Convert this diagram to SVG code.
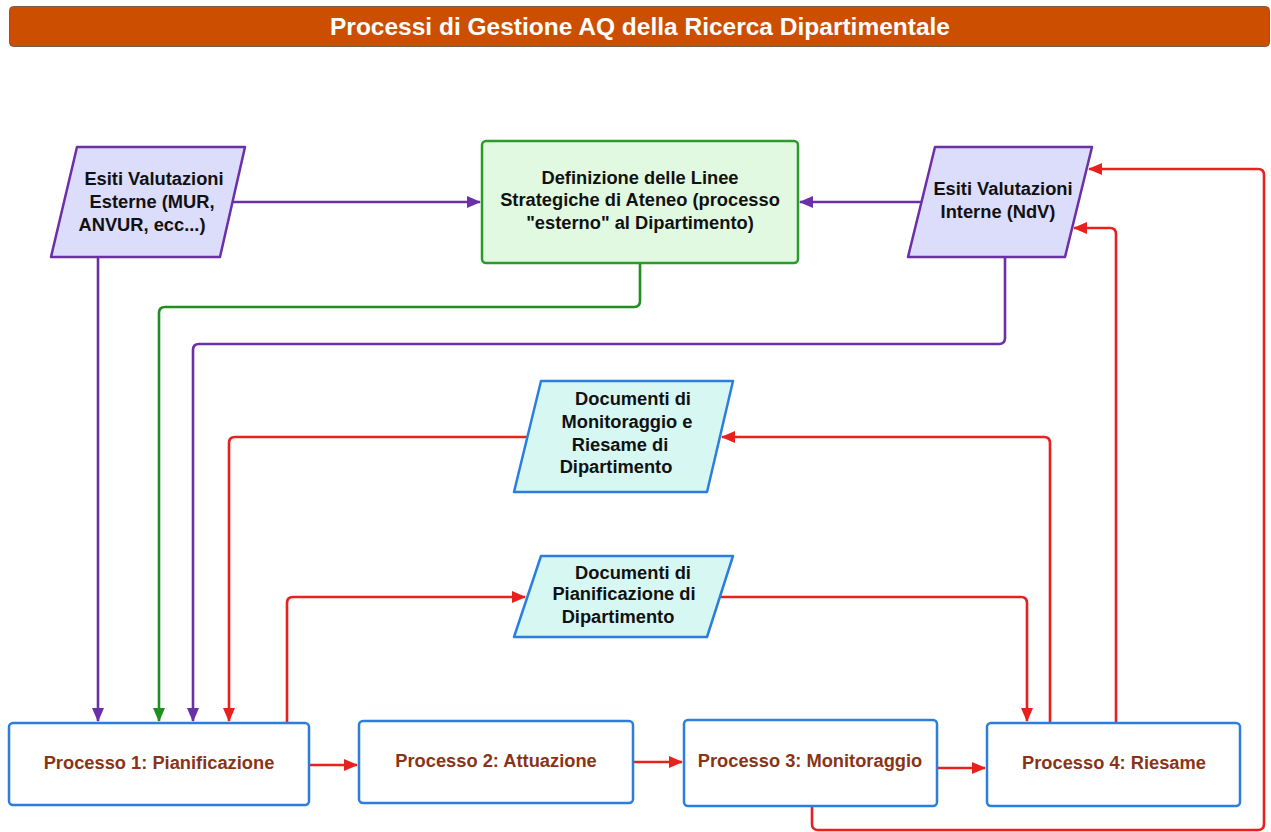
<svg xmlns="http://www.w3.org/2000/svg" width="1271" height="832" viewBox="0 0 1271 832">
<style>
.t{font-family:"Liberation Sans",Arial,sans-serif;font-weight:bold;text-anchor:middle}
.nt{font-size:18.3px;fill:#111}
.pt{font-size:18.3px;fill:#8a3417}
.par{fill:#dcdcfb;stroke:#6b2fa8;stroke-width:2.5;stroke-linejoin:round}
.doc{fill:#d7f7f3;stroke:#2b7de0;stroke-width:2.5;stroke-linejoin:round}
.proc{fill:#fff;stroke:#2b7de0;stroke-width:2.5}
.c{fill:none;stroke-width:2.6}
.pu{stroke:#6b2fa8}.gr{stroke:#1f8f1f}.rd{stroke:#e8201e}
</style>
<defs>
<marker id="ap" markerUnits="userSpaceOnUse" markerWidth="14" markerHeight="12" viewBox="0 0 14 12" refX="13" refY="6" orient="auto"><path d="M0,0 L14,6 L0,12 z" fill="#6b2fa8"/></marker>
<marker id="ag" markerUnits="userSpaceOnUse" markerWidth="14" markerHeight="12" viewBox="0 0 14 12" refX="13" refY="6" orient="auto"><path d="M0,0 L14,6 L0,12 z" fill="#1f8f1f"/></marker>
<marker id="ar" markerUnits="userSpaceOnUse" markerWidth="14" markerHeight="12" viewBox="0 0 14 12" refX="13" refY="6" orient="auto"><path d="M0,0 L14,6 L0,12 z" fill="#e8201e"/></marker>
</defs>
<rect width="1271" height="832" fill="#fff"/>
<g id="title">
<rect x="9.5" y="6.5" width="1260" height="40" rx="4" fill="#cc4e00" stroke="#7a5a4a" stroke-width="1"/>
<text class="t" x="640" y="35" font-size="24.5" fill="#fff">Processi di Gestione AQ della Ricerca Dipartimentale</text>
</g>
<g id="connectors">
<path class="c pu" d="M233,202 H480" marker-end="url(#ap)"/>
<path class="c pu" d="M921,202 H800" marker-end="url(#ap)"/>
<path class="c pu" d="M98,257 V721" marker-end="url(#ap)"/>
<path class="c gr" d="M640,263 V301 Q640,307 634,307 H165 Q159,307 159,313 V721" marker-end="url(#ag)"/>
<path class="c pu" d="M1005,257 V338 Q1005,344 999,344 H199 Q193,344 193,350 V721" marker-end="url(#ap)"/>
<path class="c rd" d="M527,437 H235 Q229,437 229,443 V721" marker-end="url(#ar)"/>
<path class="c rd" d="M287,723 V603 Q287,597 293,597 H525" marker-end="url(#ar)"/>
<path class="c rd" d="M720,597 H1021 Q1027,597 1027,603 V721" marker-end="url(#ar)"/>
<path class="c rd" d="M1050,723 V443 Q1050,437 1044,437 H722" marker-end="url(#ar)"/>
<path class="c rd" d="M1116,723 V234 Q1116,228 1110,228 H1074" marker-end="url(#ar)"/>
<path class="c rd" d="M812,806 V824 Q812,830 818,830 H1258 Q1264,830 1264,824 V175 Q1264,169 1258,169 H1089" marker-end="url(#ar)"/>
<path class="c rd" d="M309,765 H357" marker-end="url(#ar)"/>
<path class="c rd" d="M633,762 H682" marker-end="url(#ar)"/>
<path class="c rd" d="M937,768 H985" marker-end="url(#ar)"/>
</g>
<g id="esiti-esterne">
<path class="par" d="M77,147 H245 L220,257 H51 Z"/>
<text class="t nt" x="154" y="185">Esiti Valutazioni</text>
<text class="t nt" x="152" y="208">Esterne (MUR,</text>
<text class="t nt" x="142" y="231">ANVUR, ecc...)</text>
</g>
<g id="definizione">
<rect x="482" y="141" width="316" height="122" rx="4" fill="#e1f9e1" stroke="#2a9a2a" stroke-width="2.5"/>
<text class="t nt" x="640" y="184">Definizione delle Linee</text>
<text class="t nt" x="640" y="206">Strategiche di Ateneo (processo</text>
<text class="t nt" x="640" y="229">"esterno" al Dipartimento)</text>
</g>
<g id="esiti-interne">
<path class="par" d="M935,147 H1092 L1065,257 H908 Z"/>
<text class="t nt" x="1003" y="195">Esiti Valutazioni</text>
<text class="t nt" x="998" y="218">Interne (NdV)</text>
</g>
<g id="doc-monitoraggio">
<path class="doc" d="M541,381 H733 L707,492 H514 Z"/>
<text class="t nt" x="633" y="405">Documenti di</text>
<text class="t nt" x="627" y="428">Monitoraggio e</text>
<text class="t nt" x="620" y="451">Riesame di</text>
<text class="t nt" x="616" y="473">Dipartimento</text>
</g>
<g id="doc-pianificazione">
<path class="doc" d="M541,556 H733 L707,637 H514 Z"/>
<text class="t nt" x="633" y="579">Documenti di</text>
<text class="t nt" x="624" y="600">Pianificazione di</text>
<text class="t nt" x="618" y="623">Dipartimento</text>
</g>
<g id="processo1">
<rect class="proc" x="9" y="723" width="300" height="82" rx="4"/>
<text class="t pt" x="159" y="769">Processo 1: Pianificazione</text>
</g>
<g id="processo2">
<rect class="proc" x="359" y="721" width="274" height="82" rx="4"/>
<text class="t pt" x="496" y="767">Processo 2: Attuazione</text>
</g>
<g id="processo3">
<rect class="proc" x="684" y="720" width="253" height="86" rx="4"/>
<text class="t pt" x="810" y="767">Processo 3: Monitoraggio</text>
</g>
<g id="processo4">
<rect class="proc" x="987" y="723" width="253" height="83" rx="4"/>
<text class="t pt" x="1114" y="769">Processo 4: Riesame</text>
</g>
</svg>
